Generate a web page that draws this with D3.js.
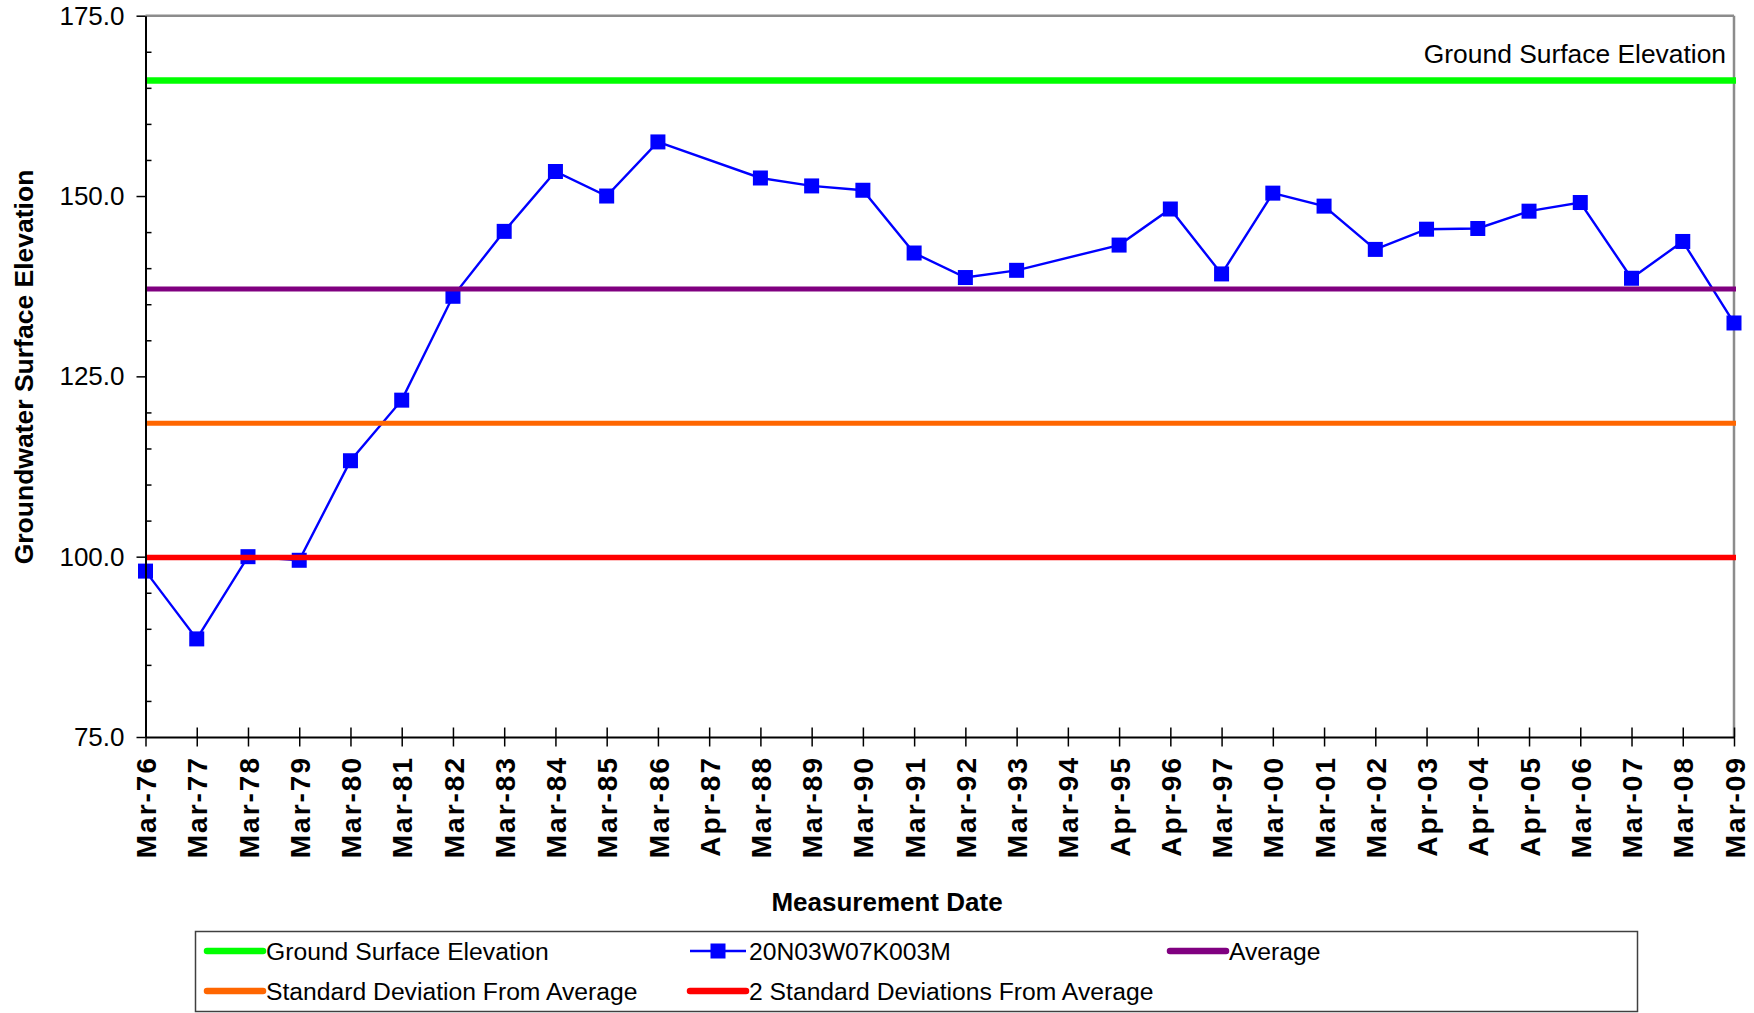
<!DOCTYPE html>
<html>
<head>
<meta charset="utf-8">
<script src="https://cdn.jsdelivr.net/npm/d3@7"></script>
<style>
  body { margin: 0; background: #fff; }
  svg { display: block; font-family: "Liberation Sans", Arial, sans-serif; }
</style>
</head>
<body>
<div id="chart"></div>
<script>
// Data

var dates = ["Mar-76", "Mar-77", "Mar-78", "Mar-79", "Mar-80", "Mar-81", "Mar-82", "Mar-83",
             "Mar-84", "Mar-85", "Mar-86", "Apr-87", "Mar-88", "Mar-89", "Mar-90", "Mar-91",
             "Mar-92", "Mar-93", "Mar-94", "Apr-95", "Apr-96", "Mar-97", "Mar-00", "Mar-01",
             "Mar-02", "Apr-03", "Apr-04", "Apr-05", "Mar-06", "Mar-07", "Mar-08", "Mar-09"];

var wellValues = [98.0, 88.6, 100.0, 99.5, 113.3, 121.7, 136.1, 145.1,
                  153.4, 150.0, 157.5, null, 152.5, 151.4, 150.8, 142.1,
                  138.7, 139.7, null, 143.2, 148.2, 139.2, 150.4, 148.6,
                  142.6, 145.4, 145.5, 147.9, 149.1, 138.6, 143.7, 132.4];

var groundSurface = 166.0;
var average = 137.1;
var stdDev = 118.5;
var stdDev2 = 99.9;

var yTicks = [75, 100, 125, 150, 175];

// Layout

var width = 1754, height = 1013;
var plotLeft = 145.5, plotRight = 1734, plotTop = 15.7, plotBottom = 737;

var svg = d3.select("#chart").append("svg")
    .attr("width", width)
    .attr("height", height);

var x = d3.scalePoint().domain(dates).range([plotLeft, plotRight]);
var y = d3.scaleLinear().domain([75, 175]).range([plotBottom, plotTop]);

// Plot frame (top and right in grey)

svg.append("line").attr("x1", plotLeft).attr("x2", plotRight).attr("y1", plotTop).attr("y2", plotTop)
    .attr("stroke", "#8c8c8c").attr("stroke-width", 2.5);
svg.append("line").attr("x1", plotRight).attr("x2", plotRight).attr("y1", plotTop).attr("y2", plotBottom)
    .attr("stroke", "#8c8c8c").attr("stroke-width", 2.5);

// Series line with square markers

var pts = dates.map(function(d, i) { return { date: d, v: wellValues[i] }; })
    .filter(function(p) { return p.v !== null; });

var line = d3.line()
    .x(function(p) { return x(p.date); })
    .y(function(p) { return y(p.v); });

svg.append("path")
    .datum(pts)
    .attr("d", line)
    .attr("fill", "none")
    .attr("stroke", "#0000ff")
    .attr("stroke-width", 2.4);

var ms = 15;
svg.selectAll("rect.marker")
    .data(pts)
  .enter().append("rect")
    .attr("class", "marker")
    .attr("x", function(p) { return x(p.date) - ms / 2; })
    .attr("y", function(p) { return y(p.v) - ms / 2; })
    .attr("width", ms)
    .attr("height", ms)
    .attr("fill", "#0000ff");

// Reference lines (drawn over the series, as in the original)

var refs = [
  { name: "Ground Surface Elevation", v: groundSurface, color: "#00ff00", w: 6.5 },
  { name: "Average", v: average, color: "#800080", w: 5 },
  { name: "Standard Deviation From Average", v: stdDev, color: "#ff6600", w: 5 },
  { name: "2 Standard Deviations From Average", v: stdDev2, color: "#ff0000", w: 5.5 }
];

svg.selectAll("line.ref")
    .data(refs)
  .enter().append("line")
    .attr("class", "ref")
    .attr("x1", plotLeft)
    .attr("x2", plotRight + 2)
    .attr("y1", function(r) { return y(r.v); })
    .attr("y2", function(r) { return y(r.v); })
    .attr("stroke", function(r) { return r.color; })
    .attr("stroke-width", function(r) { return r.w; });

svg.append("text")
    .attr("x", 1726)
    .attr("y", 63)
    .attr("text-anchor", "end")
    .attr("font-size", 26.4)
    .text("Ground Surface Elevation");

// Y axis: major ticks outside, minor ticks inside

var yAxis = svg.append("g")
    .attr("transform", "translate(" + plotLeft + ",0)")
    .call(d3.axisLeft(y).tickValues(yTicks).tickFormat(d3.format(".1f")).tickSize(9).tickSizeOuter(0).tickPadding(12));

yAxis.select(".domain").attr("stroke", "#000").attr("stroke-width", 2);
yAxis.selectAll(".tick line").attr("stroke-width", 1.5);
yAxis.selectAll("text").attr("font-size", 26).attr("fill", "#000")
    .attr("font-family", "Liberation Sans, Arial, sans-serif");

var minor = d3.range(80, 175, 5).filter(function(v) { return v % 25 !== 0; });
svg.append("g")
    .attr("transform", "translate(" + plotLeft + ",0)")
    .call(d3.axisRight(y).tickValues(minor).tickSize(6).tickFormat(""))
    .call(function(g) { g.select(".domain").remove(); })
    .selectAll(".tick line").attr("stroke-width", 1.5);

// X axis: crossing ticks, rotated bold labels

var xAxis = svg.append("g")
    .attr("transform", "translate(0," + plotBottom + ")")
    .call(d3.axisBottom(x).tickSizeOuter(0));

xAxis.select(".domain").attr("stroke", "#000").attr("stroke-width", 2);
xAxis.selectAll(".tick line").attr("y1", -9.5).attr("y2", 9.5).attr("stroke-width", 1.5);
xAxis.selectAll(".tick text")
    .attr("transform", "rotate(-90)")
    .attr("x", -19)
    .attr("y", 0)
    .attr("dy", "0.36em")
    .attr("text-anchor", "end")
    .attr("font-size", 28)
    .attr("letter-spacing", 2)
    .attr("font-weight", "bold")
    .attr("fill", "#000")
    .attr("font-family", "Liberation Sans, Arial, sans-serif");

// Axis titles

svg.append("text")
    .attr("x", 887)
    .attr("y", 911)
    .attr("text-anchor", "middle")
    .attr("font-size", 26)
    .attr("font-weight", "bold")
    .text("Measurement Date");

svg.append("text")
    .attr("transform", "translate(23.5,367) rotate(-90)")
    .attr("dy", "0.36em")
    .attr("text-anchor", "middle")
    .attr("font-size", 26.5)
    .attr("font-weight", "bold")
    .text("Groundwater Surface Elevation");

// Legend

var legend = svg.append("g");

legend.append("rect")
    .attr("x", 195.5).attr("y", 931.5)
    .attr("width", 1442).attr("height", 80)
    .attr("fill", "none").attr("stroke", "#404040").attr("stroke-width", 1.5);

var items = [
  { name: refs[0].name, color: refs[0].color, col: 0, row: 0 },
  { name: "20N03W07K003M", color: "#0000ff", col: 1, row: 0, marker: true },
  { name: refs[1].name, color: refs[1].color, col: 2, row: 0 },
  { name: refs[2].name, color: refs[2].color, col: 0, row: 1 },
  { name: refs[3].name, color: refs[3].color, col: 1, row: 1 }
];
var colX = [207, 690, 1170];
var rowY = [951, 991];

var entry = legend.selectAll("g.item")
    .data(items)
  .enter().append("g")
    .attr("class", "item")
    .attr("transform", function(d) { return "translate(" + colX[d.col] + "," + rowY[d.row] + ")"; });

entry.append("line")
    .attr("x1", 0).attr("x2", 56)
    .attr("stroke", function(d) { return d.color; })
    .attr("stroke-width", function(d) { return d.marker ? 2.4 : 6.5; })
    .attr("stroke-linecap", function(d) { return d.marker ? "butt" : "round"; });

entry.filter(function(d) { return d.marker; }).append("rect")
    .attr("x", 28 - 7.5).attr("y", -7.5).attr("width", 15).attr("height", 15)
    .attr("fill", "#0000ff");

entry.append("text")
    .attr("x", 59)
    .attr("dy", "0.36em")
    .attr("font-size", 24.7)
    .text(function(d) { return d.name; });
</script>
</body>
</html>
